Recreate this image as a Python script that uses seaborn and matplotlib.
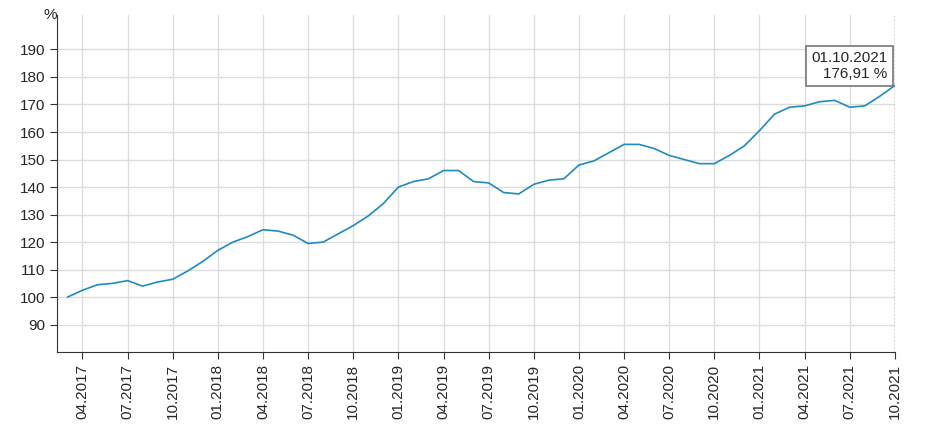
import matplotlib
matplotlib.use("Agg")
import matplotlib.pyplot as plt
import numpy as np
import pandas as pd
import seaborn as sns

# monthly index values, 03.2017 .. 10.2021
months = pd.date_range("2017-03-01", "2021-10-01", freq="MS")
values = [100, 102.5, 104.5, 105, 106, 104, 105.5, 106.5, 109.5, 113,
          117, 120, 122, 124.5, 124, 122.5, 119.5, 120, 123, 126,
          129.5, 134, 140, 142, 143, 146, 146, 142, 141.5, 138,
          137.5, 141, 142.5, 143, 148, 149.5, 152.5, 155.5, 155.5, 154,
          151.5, 150, 148.5, 148.5, 151.5, 155, 160.5, 166.5, 169, 169.5,
          171, 171.5, 169, 169.5, 173, 176.91]
tick_labels = ["04.2017", "07.2017", "10.2017", "01.2018", "04.2018", "07.2018",
               "10.2018", "01.2019", "04.2019", "07.2019", "10.2019", "01.2020",
               "04.2020", "07.2020", "10.2020", "01.2021", "04.2021", "07.2021", "10.2021"]
yticks = list(range(90, 200, 10))

df = pd.DataFrame({"idx": np.arange(len(months)), "value": values})

sns.set_style("white")
plt.rcParams['font.family'] = ['Liberation Sans', 'DejaVu Sans']
fig = plt.figure(figsize=(9.4, 4.3), dpi=100)
ax = fig.add_axes([0.061, 0.181, 0.891, 0.784])

sns.lineplot(data=df, x="idx", y="value", ax=ax, color="#1f8bc0", linewidth=1.2)

tick_pos = [i for i, m in enumerate(months) if m.strftime("%m.%Y") in tick_labels]
ax.set_xticks(tick_pos)
ax.set_xticklabels(tick_labels, rotation=90, fontsize=11)
ax.set_yticks(yticks)
ax.set_yticklabels([str(v) for v in yticks], fontsize=11)
ax.set_xlim(-0.67, len(months) - 1)
ax.set_ylim(80, 202.5)
ax.grid(True, color="#dddddd", linewidth=1)
ax.set_axisbelow(True)
ax.tick_params(axis="both", length=5, color="#333333", direction="out", bottom=True, left=True)
for s in ["top", "right"]:
    ax.spines[s].set_visible(False)
for s in ["left", "bottom"]:
    ax.spines[s].set_color("#333333")
ax.set_xlabel("")
ax.set_ylabel("")
fig.text(0.046, 0.955, "%", fontsize=11, ha="left")

last = len(months) - 1
ax.axvline(last, color="#333333", linestyle=":", linewidth=1, zorder=5)
ax.text(last - 0.5, 184, "01.10.2021\n176,91 %", ha="right", va="center", fontsize=11,
        multialignment="right", zorder=6,
        bbox=dict(boxstyle="square,pad=0.35", fc="white", ec="#777777", lw=1.2))

fig.savefig("out.png", dpi=100)
